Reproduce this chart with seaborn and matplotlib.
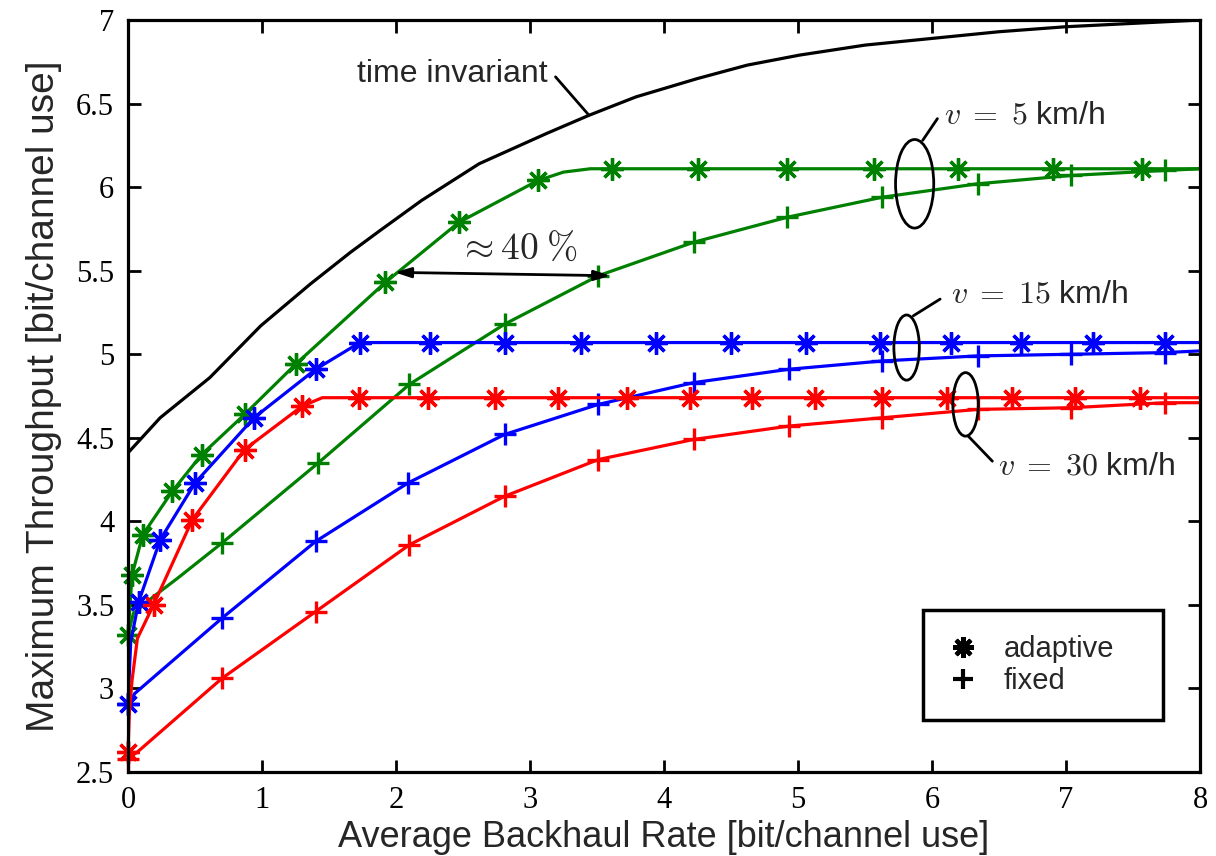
import numpy as np
import matplotlib
matplotlib.use("Agg")
import matplotlib.pyplot as plt
from matplotlib.patches import Ellipse
from matplotlib.lines import Line2D
import seaborn as sns

# --- values ------------------------------------------------------------------

# time invariant channel (upper bound)
x_inv = [0, 0.24, 0.61, 0.99, 1.36, 1.66, 1.88, 2.19, 2.62, 3.12, 3.44, 3.79,
         4.25, 4.62, 5.01, 5.5, 6.0, 6.5, 7.0, 7.5, 8.0]
y_inv = [4.41, 4.62, 4.86, 5.17, 5.42, 5.61, 5.74, 5.92, 6.14, 6.32, 6.43, 6.54,
         6.65, 6.73, 6.79, 6.85, 6.89, 6.93, 6.96, 6.98, 7.0]

# v = 5 km/h
x_g_ad = [0, 0.03, 0.11, 0.33, 0.55, 0.87, 1.25, 1.92, 2.47, 3.06, 3.25, 3.45,
          3.61, 4.25, 4.92, 5.57, 6.19, 6.90, 7.57, 8.0]
y_g_ad = [3.32, 3.68, 3.92, 4.18, 4.40, 4.64, 4.94, 5.43, 5.79, 6.04, 6.09, 6.11,
          6.11, 6.11, 6.11, 6.11, 6.11, 6.11, 6.11, 6.11]
x_g_fx = [0, 0.04, 0.19, 0.37, 0.70, 1.42, 2.10, 2.81, 3.51, 4.22, 4.92, 5.63,
          6.34, 7.04, 7.74, 8.0]
y_g_fx = [3.32, 3.45, 3.55, 3.66, 3.87, 4.35, 4.82, 5.18, 5.47, 5.67, 5.82, 5.94,
          6.02, 6.07, 6.10, 6.11]

# v = 15 km/h
x_b_ad = [0, 0.02, 0.08, 0.24, 0.50, 0.94, 1.40, 1.73, 1.85, 2.25, 2.81, 3.38,
          3.94, 4.50, 5.06, 5.61, 6.14, 6.66, 7.20, 7.74, 8.0]
y_b_ad = [2.91, 3.28, 3.52, 3.89, 4.23, 4.62, 4.91, 5.07, 5.07, 5.07, 5.07, 5.07,
          5.07, 5.07, 5.07, 5.07, 5.07, 5.07, 5.07, 5.07, 5.07]
x_b_fx = [0, 0.05, 0.70, 1.40, 2.09, 2.81, 3.51, 4.22, 4.93, 5.63, 6.34, 7.04,
          7.74, 8.0]
y_b_fx = [2.91, 2.97, 3.42, 3.88, 4.23, 4.52, 4.70, 4.83, 4.91, 4.96, 4.99, 5.00,
          5.01, 5.02]

# v = 30 km/h
x_r_ad = [0, 0.01, 0.03, 0.07, 0.19, 0.48, 0.87, 1.30, 1.45, 1.72, 2.24, 2.74,
          3.21, 3.72, 4.19, 4.66, 5.13, 5.63, 6.11, 6.60, 7.07, 7.55, 8.0]
y_r_ad = [2.62, 2.86, 3.05, 3.30, 3.50, 4.01, 4.43, 4.69, 4.74, 4.74, 4.74, 4.74,
          4.74, 4.74, 4.74, 4.74, 4.74, 4.74, 4.74, 4.74, 4.74, 4.74, 4.74]
x_r_fx = [0, 0.07, 0.70, 1.40, 2.10, 2.81, 3.51, 4.22, 4.93, 5.63, 6.34, 7.04,
          7.74, 8.0]
y_r_fx = [2.58, 2.62, 3.06, 3.46, 3.86, 4.15, 4.37, 4.49, 4.57, 4.62, 4.67, 4.68,
          4.71, 4.71]

x_ticks = [0, 1, 2, 3, 4, 5, 6, 7, 8]
y_ticks = [2.5, 3, 3.5, 4, 4.5, 5, 5.5, 6, 6.5, 7]
y_ticklabels = ["2.5", "3", "3.5", "4", "4.5", "5", "5.5", "6", "6.5", "7"]

# --- style -------------------------------------------------------------------

sns.set_theme(context="notebook", style="ticks")
plt.rcParams["font.family"] = ["Liberation Sans", "DejaVu Sans"]
plt.rcParams["mathtext.fontset"] = "cm"

GREEN, BLUE, RED = "#008000", "#0000ff", "#ff0000"
ASTER = (8, 2, 0)
LW, MS, MEW = 2.3, 16, 2.4

fig = plt.figure(figsize=(12.16, 8.56), dpi=100)
ax = fig.add_axes([0.1053, 0.0981, 0.8816, 0.8785])


def curve(x, y, color, marker=None, every=None):
    kw = dict(x=x, y=y, ax=ax, color=color, linewidth=LW, sort=False,
              estimator=None, legend=False)
    if marker is not None:
        kw.update(marker=marker, markevery=every, markersize=MS,
                  markeredgewidth=MEW, markeredgecolor=color,
                  markerfacecolor=color, clip_on=False)
    sns.lineplot(**kw)


curve(x_inv, y_inv, "black")
curve(x_g_fx, y_g_fx, GREEN, "+", list(range(4, 15)))
curve(x_g_ad, y_g_ad, GREEN, ASTER, list(range(0, 10)) + list(range(12, 19)))
curve(x_b_fx, y_b_fx, BLUE, "+", [0] + list(range(2, 13)))
curve(x_b_ad, y_b_ad, BLUE, ASTER, [0] + list(range(2, 8)) + list(range(9, 20)))
curve(x_r_fx, y_r_fx, RED, "+", [0] + list(range(2, 13)))
curve(x_r_ad, y_r_ad, RED, ASTER, [0] + list(range(4, 8)) + list(range(9, 22)))

ax.set_xlim(0, 8)
ax.set_ylim(2.5, 7)
ax.set_xticks(x_ticks)
ax.set_xticklabels([str(t) for t in x_ticks], family="Liberation Serif", fontsize=22)
ax.set_yticks(y_ticks)
ax.set_yticklabels(y_ticklabels, family="Liberation Serif", fontsize=22)
ax.tick_params(direction="in", length=9, width=2, top=True, right=True, pad=10,
               colors="black")
for s in ax.spines.values():
    s.set_visible(True)
    s.set_linewidth(2.3)
    s.set_color("black")

ax.set_xlabel("Average Backhaul Rate [bit/channel use]", fontsize=26, labelpad=4)
ax.set_ylabel("Maximum Throughput [bit/channel use]", fontsize=28, labelpad=10)

# --- annotations -------------------------------------------------------------

line_kw = dict(arrowstyle="-", lw=2, color="black", shrinkA=0, shrinkB=0)

ax.text(2.42, 6.68, "time invariant", fontsize=23, ha="center", va="center")
ax.annotate("", xy=(3.44, 6.43), xytext=(3.19, 6.66), arrowprops=line_kw)

for (cx, cy, w, h) in [(5.87, 6.02, 0.285, 0.53), (5.81, 5.04, 0.19, 0.39),
                       (6.25, 4.70, 0.19, 0.38)]:
    ax.add_patch(Ellipse((cx, cy), w, h, fill=False, lw=2, ec="black", zorder=5))

ax.annotate("", xy=(6.04, 6.41), xytext=(5.93, 6.28), arrowprops=line_kw)
ax.text(6.09, 6.43, r"$v\;=\;5$ km/h", fontsize=23, ha="left", va="center")
ax.annotate("", xy=(6.06, 5.33), xytext=(5.86, 5.23), arrowprops=line_kw)
ax.text(6.14, 5.36, r"$v\;=\;15$ km/h", fontsize=23, ha="left", va="center")
ax.annotate("", xy=(6.45, 4.36), xytext=(6.27, 4.51), arrowprops=line_kw)
ax.text(6.49, 4.33, r"$v\;=\;30$ km/h", fontsize=23, ha="left", va="center")

ax.annotate("", xy=(1.99, 5.49), xytext=(3.60, 5.47),
            arrowprops=dict(arrowstyle="<|-|>,head_length=0.8,head_width=0.25",
                            lw=2, color="black", shrinkA=0, shrinkB=0))
ax.text(2.91, 5.63, r"$\approx 40\;\%$", fontsize=27, ha="center", va="center")

# --- legend ------------------------------------------------------------------

handles = [Line2D([], [], ls="none", marker=ASTER, ms=15, mew=3, color="black"),
           Line2D([], [], ls="none", marker="+", ms=15, mew=3, color="black")]
leg = ax.legend(handles, ["adaptive", "fixed"], loc="lower left",
                bbox_to_anchor=(0.742, 0.069, 0.223, 0.146), mode="expand",
                prop={"family": "Liberation Sans", "size": 21},
                frameon=True, fancybox=False, framealpha=1, borderpad=0.85,
                labelspacing=0.15, handlelength=1.0, handletextpad=0.9,
                borderaxespad=0)
leg.get_frame().set_edgecolor("black")
leg.get_frame().set_linewidth(2.5)

fig.savefig("out.png", dpi=100, facecolor="white")
